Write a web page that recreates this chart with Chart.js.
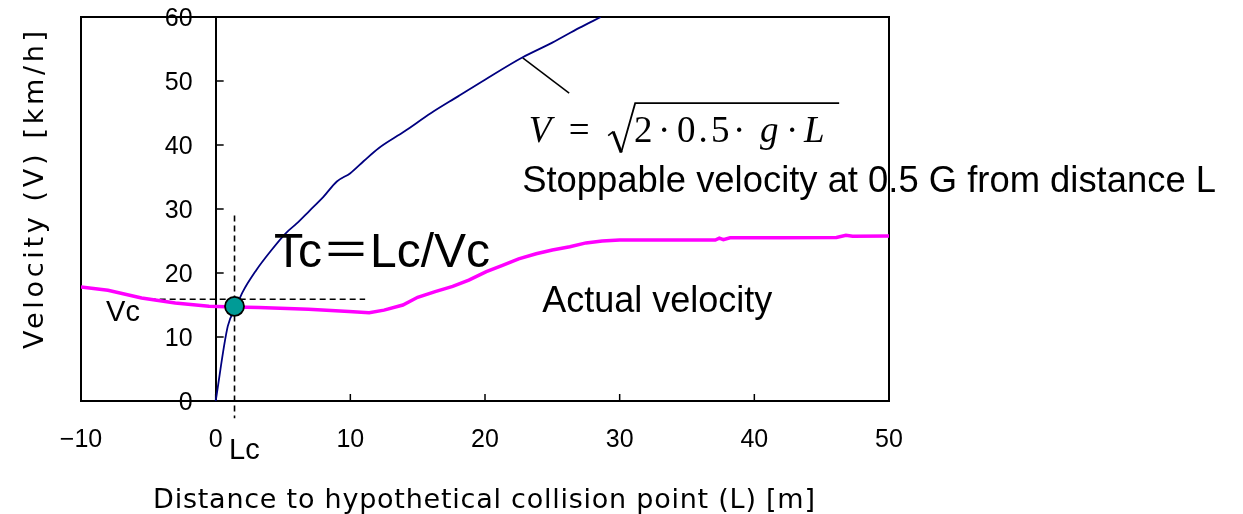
<!DOCTYPE html>
<html lang="en">
<head>
<meta charset="UTF-8">
<title>Stoppable velocity and actual velocity</title>
<script src="https://cdn.jsdelivr.net/npm/chart.js"></script>
<style>
  html, body { margin: 0; padding: 0; background: #fff; }
  #wrap { width: 1243px; height: 514px; }
</style>
</head>
<body>
<div id="wrap"><canvas id="velocityChart" width="1243" height="514"></canvas></div>
<script>
// stoppable velocity at 0.5 G
const stopL = [0, 0.9, 1.5, 2, 3, 4, 5.2, 6, 7, 8, 9, 10, 11, 12.1, 14, 16, 18, 20, 22.8, 25, 27, 28.6];
const stopV = [0, 11.7, 14.6, 17, 20.4, 23.2, 26.2, 27.7, 29.8, 31.9, 34.3, 35.6, 37.5, 39.5, 42.1, 45, 47.6, 50.2, 53.7, 56, 58.3, 60];

// actual velocity
const actualL = [-10, -8, -5.5, -3, -0.5, 1.4, 3.2, 6.9, 9.9, 11.4, 12.5, 13.9, 15, 16.3, 17.6, 18.8, 20.1, 21.3, 22.5, 23.8, 25, 26.3, 27.5, 28.7, 30, 33, 37.1, 37.4, 37.7, 38.2, 42, 46.1, 46.8, 47.3, 50];
const actualV = [17.8, 17.3, 16.1, 15.3, 14.8, 14.7, 14.6, 14.35, 14.0, 13.8, 14.2, 15.0, 16.2, 17.1, 17.9, 18.9, 20.2, 21.2, 22.2, 23.0, 23.6, 24.1, 24.7, 25.0, 25.15, 25.15, 25.15, 25.45, 25.2, 25.5, 25.5, 25.55, 25.9, 25.75, 25.8];

// crossing point (Lc, Vc)
const crossL = [1.4];
const crossV = [14.8];

// dashed guide lines and the leader line to the formula
const guideVertL = [1.4, 1.4];
const guideVertV = [29, -2.7];
const guideHorL = [-4.9, 11.1];
const guideHorV = [15.9, 15.9];
const leaderL = [22.8, 26.25];
const leaderV = [53.6, 48.1];

// axis ticks
const xTicks = [-10, 0, 10, 20, 30, 40, 50];
const yTicks = [0, 10, 20, 30, 40, 50, 60];

const toPoints = (xs, ys) => xs.map((x, i) => ({ x: x, y: ys[i] }));

const SANS = '"Liberation Sans", Arial, "Noto Sans CJK JP", sans-serif';
const SERIF = '"Liberation Serif", "Times New Roman", serif';
const TITLE = '"DejaVu Sans", "Liberation Sans", sans-serif';

// free text placed in data coordinates
const notes = [
  { text: 'Tc\uFF1DLc/Vc', L: 4.33, V: 20.9, font: '48px ' + SANS },
  { text: 'Actual velocity', L: 24.25, V: 13.9, font: '36px ' + SANS },
  { text: 'Stoppable velocity at 0.5 G from distance L', L: 22.76, V: 32.7, font: '36.4px ' + SANS },
  { text: 'Vc', L: -8.14, V: 12.5, font: '29px ' + SANS },
  { text: 'Lc', L: 0.99, V: -9.0, font: '29px ' + SANS }
];
const formulaAt = { L: 23.28, V: 40.54 };
// formula pieces: text, centre offset from anchor in px, italic
const formulaParts = [
  ['V', 11, true], ['=', 50, false], ['2', 114, false], ['\u00B7', 135, false],
  ['0', 157, false], ['.', 174, false], ['5', 191, false], ['\u00B7', 210, false],
  ['g', 240, true], ['\u00B7', 263, false], ['L', 285, true]
];

const framePlugin = {
  id: 'frame',
  beforeDatasetsDraw(chart) {
    const { ctx, chartArea: a, scales: { x, y } } = chart;
    ctx.save();
    ctx.strokeStyle = '#000';
    ctx.lineWidth = 2;
    ctx.beginPath();
    ctx.moveTo(a.left, a.bottom);
    ctx.lineTo(a.left, a.top);
    ctx.lineTo(a.right, a.top);
    ctx.lineTo(a.right, a.bottom);
    ctx.stroke();
    // inside tick marks
    ctx.lineWidth = 1.5;
    const x0 = x.getPixelForValue(0);
    xTicks.forEach(v => {
      const px = x.getPixelForValue(v);
      ctx.beginPath();
      ctx.moveTo(px, a.bottom);
      ctx.lineTo(px, a.bottom - 7);
      ctx.stroke();
    });
    yTicks.forEach(v => {
      const py = y.getPixelForValue(v);
      ctx.beginPath();
      ctx.moveTo(x0, py);
      ctx.lineTo(x0 + 8, py);
      ctx.stroke();
    });
    // y tick labels, left of the axis at L = 0
    ctx.fillStyle = '#000';
    ctx.font = '25px ' + SANS;
    ctx.textAlign = 'right';
    ctx.textBaseline = 'middle';
    y.ticks.forEach(t => {
      ctx.fillText(String(t.value), x0 - 23, y.getPixelForValue(t.value) + 2);
    });
    ctx.restore();
  }
};

function fitText(ctx, text, cx, cy, width) {
  const w = ctx.measureText(text).width;
  const extra = (width - w) / Math.max(text.length - 1, 1);
  ctx.letterSpacing = extra.toFixed(2) + 'px';
  ctx.textAlign = 'center';
  ctx.fillText(text, cx + extra / 2, cy);
  ctx.letterSpacing = '0px';
}

const textPlugin = {
  id: 'texts',
  afterDraw(chart) {
    const { ctx, scales: { x, y } } = chart;
    ctx.save();
    ctx.fillStyle = '#000';
    ctx.textBaseline = 'alphabetic';
    ctx.textAlign = 'left';
    notes.forEach(n => {
      ctx.font = n.font;
      ctx.fillText(n.text, x.getPixelForValue(n.L), y.getPixelForValue(n.V));
    });

    // V = sqrt(2 * 0.5 * g * L)
    const fx = x.getPixelForValue(formulaAt.L);
    const fy = y.getPixelForValue(formulaAt.V);
    ctx.textAlign = 'center';
    formulaParts.forEach(p => {
      ctx.font = (p[2] ? 'italic ' : '') + '37px ' + SERIF;
      ctx.fillText(p[0], fx + p[1], fy);
    });
    ctx.strokeStyle = '#000';
    ctx.lineJoin = 'miter';
    ctx.lineWidth = 1.6;
    ctx.beginPath();
    ctx.moveTo(fx + 79, fy - 6);
    ctx.lineTo(fx + 84, fy - 10);
    ctx.stroke();
    ctx.lineWidth = 3;
    ctx.beginPath();
    ctx.moveTo(fx + 84, fy - 10);
    ctx.lineTo(fx + 92, fy + 11);
    ctx.stroke();
    ctx.lineWidth = 1.8;
    ctx.beginPath();
    ctx.moveTo(fx + 92, fy + 11);
    ctx.lineTo(fx + 106, fy - 38.4);
    ctx.lineTo(fx + 310, fy - 38.4);
    ctx.stroke();

    // axis titles
    ctx.font = '27px ' + TITLE;
    fitText(ctx, 'Distance to hypothetical collision point (L) [m]', 484, 508, 662);
    ctx.save();
    ctx.translate(43, 190);
    ctx.rotate(-Math.PI / 2);
    fitText(ctx, 'Velocity (V) [km/h]', 0, 0, 318);
    ctx.restore();
    ctx.restore();
  }
};

const tickFont = { family: SANS, size: 25 };

new Chart(document.getElementById('velocityChart'), {
  type: 'line',
  data: {
    datasets: [
      {
        label: 'Lc, Vc',
        data: toPoints(crossL, crossV),
        showLine: false,
        pointRadius: 9.5,
        pointBackgroundColor: '#009b96',
        pointBorderColor: '#000',
        pointBorderWidth: 1.8
      },
      {
        label: 'Actual velocity',
        data: toPoints(actualL, actualV),
        borderColor: '#ff00ff',
        borderWidth: 3.5,
        pointRadius: 0
      },
      {
        label: 'Stoppable velocity',
        data: toPoints(stopL, stopV),
        borderColor: '#000080',
        borderWidth: 1.8,
        pointRadius: 0,
        cubicInterpolationMode: 'monotone'
      },
      {
        label: 'Lc guide',
        data: toPoints(guideVertL, guideVertV),
        borderColor: '#000',
        borderWidth: 1.6,
        borderDash: [6, 4],
        pointRadius: 0,
        clip: false
      },
      {
        label: 'Vc guide',
        data: toPoints(guideHorL, guideHorV),
        borderColor: '#000',
        borderWidth: 1.6,
        borderDash: [6, 4],
        pointRadius: 0
      },
      {
        label: 'leader',
        data: toPoints(leaderL, leaderV),
        borderColor: '#000',
        borderWidth: 1.5,
        pointRadius: 0
      }
    ]
  },
  options: {
    responsive: false,
    animation: false,
    events: [],
    layout: { padding: { left: 81, top: 17, right: 354, bottom: 0 } },
    plugins: {
      legend: { display: false },
      tooltip: { enabled: false },
      title: { display: false }
    },
    scales: {
      x: {
        type: 'linear',
        min: -10,
        max: 50,
        afterBuildTicks: s => { s.ticks = xTicks.map(v => ({ value: v })); },
        afterFit: s => { s.height = 113; },
        grid: { display: false },
        border: { display: true, color: '#000', width: 2 },
        ticks: {
          color: '#000',
          font: tickFont,
          padding: 16,
          maxRotation: 0,
          autoSkip: false,
          callback: v => v < 0 ? '\u2212' + Math.abs(v) : String(v)
        }
      },
      y: {
        type: 'linear',
        position: { x: 0 },
        min: 0,
        max: 60,
        afterBuildTicks: s => { s.ticks = yTicks.map(v => ({ value: v })); },
        afterFit: s => { s.paddingTop = 0; s.paddingBottom = 0; },
        grid: { display: false },
        border: { display: true, color: '#000', width: 2 },
        ticks: { display: false }
      }
    }
  },
  plugins: [framePlugin, textPlugin]
});
</script>
</body>
</html>
